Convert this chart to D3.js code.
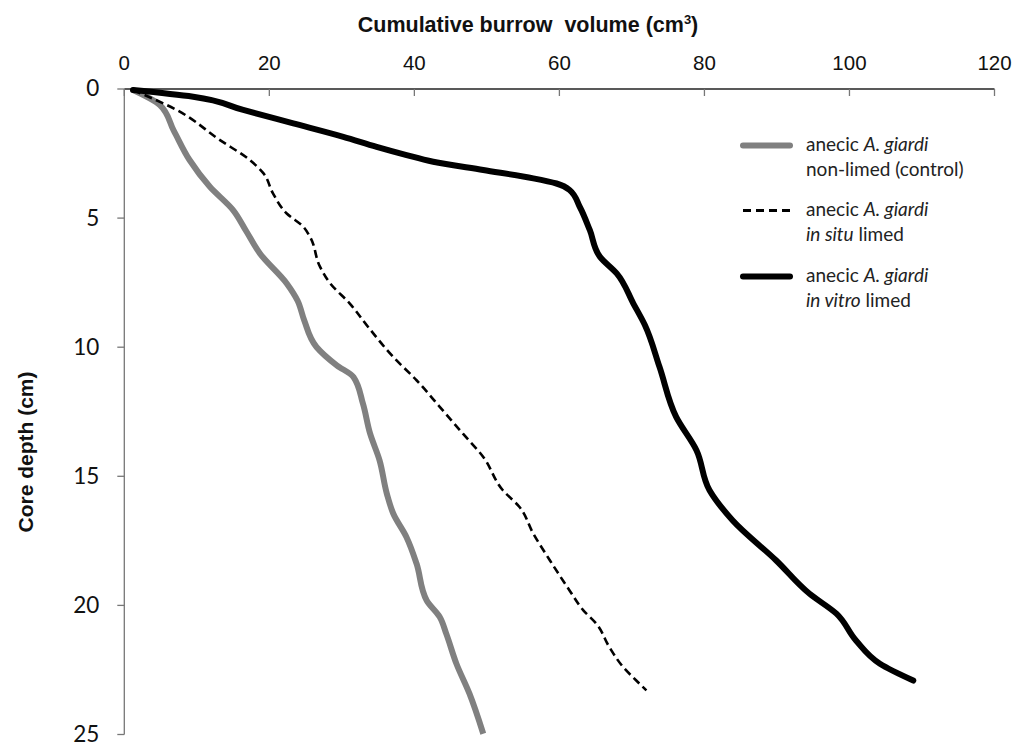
<!DOCTYPE html>
<html>
<head>
<meta charset="utf-8">
<script src="https://cdn.jsdelivr.net/npm/d3@7"></script>
<style>
  html, body { margin: 0; padding: 0; background: #fff; }
  svg { display: block; }
</style>
</head>
<body>
<svg id="chart" width="1018" height="744"></svg>
<script>
// ---- Data ----
const xTicks = [0, 20, 40, 60, 80, 100, 120];
const yTicks = [0, 5, 10, 15, 20, 25];

// non-limed (control)
const controlDepth  = [0.04, 0.62, 1.6, 2.75, 3.79, 4.69, 5.5, 6.37, 7.53, 8.2, 8.95, 9.99, 10.7, 11.15, 12.18, 13.35, 14.38, 15.67, 16.45, 17.35, 18.38, 19.81, 20.45, 21.1, 22.26, 23.42, 24.97];
const controlVolume = [1.2, 4.9, 6.8, 9.0, 11.8, 15.0, 16.8, 18.7, 22.4, 23.9, 24.8, 26.5, 29.3, 31.6, 32.9, 33.9, 35.2, 36.2, 37.1, 38.9, 40.3, 41.7, 43.5, 44.4, 45.8, 47.6, 49.5];

// in situ limed
const insituDepth  = [0.04, 0.81, 1.98, 2.75, 3.27, 4.04, 4.82, 5.34, 5.72, 6.89, 7.53, 8.31, 9.21, 10.38, 11.28, 12.31, 13.35, 14.25, 15.54, 16.19, 17.22, 18.26, 19.42, 20.19, 20.71, 21.62, 22.39, 22.91, 23.29];
const insituVolume = [1.2, 7.2, 13.2, 17.3, 19.2, 20.5, 22.4, 24.7, 25.6, 27.0, 28.4, 31.1, 33.6, 37.1, 40.3, 43.5, 46.7, 49.5, 52.2, 54.5, 56.4, 58.7, 61.4, 63.3, 65.1, 66.9, 68.8, 70.6, 72.0];

// in vitro limed
const invitroDepth  = [0.04, 0.3, 0.81, 1.33, 1.85, 2.24, 2.55, 2.82, 3.14, 3.46, 3.66, 3.91, 4.56, 5.47, 6.5, 7.14, 8.31, 9.15, 10.76, 12.7, 13.99, 15.54, 16.71, 18.26, 19.55, 20.32, 21.36, 22.26, 22.91];
const invitroVolume = [1.2, 9.5, 16.4, 23.3, 30.2, 34.8, 38.8, 42.6, 49.5, 56.4, 59.6, 61.4, 62.8, 64.2, 65.6, 67.9, 70.2, 71.8, 73.8, 76.1, 78.9, 80.7, 83.9, 89.9, 94.5, 98.2, 100.9, 104.2, 108.8];

const seriesNames = ["non-limed (control)", "in situ limed", "in vitro limed"];

// ---- Chart ----
const svg = d3.select("#chart");
const x = d3.scaleLinear().domain([0, 120]).range([124.3, 994.5]);
const y = d3.scaleLinear().domain([0, 25]).range([89, 734.5]);

// X axis (top)
const xAxisG = svg.append("g").attr("transform", `translate(0,${y(0)})`);
xAxisG.append("line").attr("x1", x(0)).attr("x2", x(120)).attr("y1", 0).attr("y2", 0)
  .attr("stroke", "#222").attr("stroke-width", 1.3);
xAxisG.selectAll("line.tick").data(xTicks).enter().append("line")
  .attr("class", "tick")
  .attr("x1", d => x(d)).attr("x2", d => x(d)).attr("y1", 0).attr("y2", 7)
  .attr("stroke", "#777").attr("stroke-width", 1.3);
xAxisG.selectAll("text").data(xTicks).enter().append("text")
  .attr("x", d => x(d)).attr("y", -19)
  .attr("text-anchor", "middle")
  .attr("font-family", "'Liberation Sans', Arial, sans-serif")
  .attr("font-size", 20.5).attr("fill", "#111")
  .text(d => d);

// Y axis (left)
const yAxisG = svg.append("g").attr("transform", `translate(${x(0)},0)`);
yAxisG.append("line").attr("x1", 0).attr("x2", 0).attr("y1", y(0)).attr("y2", y(25))
  .attr("stroke", "#777").attr("stroke-width", 1.3);
yAxisG.selectAll("line.tick").data(yTicks).enter().append("line")
  .attr("class", "tick")
  .attr("x1", -7).attr("x2", 0).attr("y1", d => y(d)).attr("y2", d => y(d))
  .attr("stroke", "#777").attr("stroke-width", 1.3);
yAxisG.selectAll("text").data(yTicks).enter().append("text")
  .attr("x", -25).attr("y", d => y(d)).attr("dy", "0.33em")
  .attr("text-anchor", "end")
  .attr("font-family", "Lato, 'Open Sans', sans-serif")
  .attr("font-size", 22.5).attr("fill", "#111")
  .text(d => d);

// Axis titles
const xt = svg.append("text")
  .attr("x", 528).attr("y", 32)
  .attr("text-anchor", "middle")
  .attr("font-family", "'Liberation Sans', Arial, sans-serif")
  .attr("font-weight", "bold").attr("font-size", 21.5).attr("fill", "#111")
  .style("white-space", "pre");
xt.append("tspan").text("Cumulative burrow  volume (cm");
xt.append("tspan").attr("font-size", 13).attr("dy", -8).text("3");
xt.append("tspan").attr("dy", 8).text(")");

svg.append("text")
  .attr("transform", "translate(33,452) rotate(-90)")
  .attr("text-anchor", "middle")
  .attr("font-family", "'Liberation Sans', Arial, sans-serif")
  .attr("font-weight", "bold").attr("font-size", 21).attr("fill", "#111")
  .text("Core depth (cm)");

// Lines
const line = d3.line()
  .x(d => x(d[0])).y(d => y(d[1]))
  .curve(d3.curveMonotoneY);

const zip = (vol, dep) => vol.map((v, i) => [v, dep[i]]);

svg.append("path").datum(zip(controlVolume, controlDepth))
  .attr("d", line).attr("fill", "none")
  .attr("stroke", "#808080").attr("stroke-width", 6).attr("stroke-linejoin", "round");

svg.append("path").datum(zip(insituVolume, insituDepth))
  .attr("d", line).attr("fill", "none")
  .attr("stroke", "#000").attr("stroke-width", 2.6).attr("stroke-dasharray", "8,4.5");

svg.append("path").datum(zip(invitroVolume, invitroDepth))
  .attr("d", line).attr("fill", "none")
  .attr("stroke", "#000").attr("stroke-width", 6).attr("stroke-linejoin", "round").attr("stroke-linecap", "round");

// Legend
const legendFont = "Lato, 'Open Sans', sans-serif";
const legendItems = [
  { y: 145.5, stroke: "#808080", width: 6, dash: null, second: [["non-limed (control)", false]] },
  { y: 210.5, stroke: "#000", width: 3, dash: "8,5", second: [["in situ", true], [" limed", false]] },
  { y: 276.5, stroke: "#000", width: 6, dash: null, second: [["in vitro", true], [" limed", false]] }
];
legendItems.forEach((it, i) => {
  const g = svg.append("g");
  g.append("line").attr("x1", 743).attr("x2", 790).attr("y1", it.y).attr("y2", it.y)
    .attr("stroke", it.stroke).attr("stroke-width", it.width)
    .attr("stroke-linecap", it.dash ? "butt" : "round")
    .attr("stroke-dasharray", it.dash);
  const t1 = g.append("text").attr("x", 806).attr("y", it.y + 5)
    .attr("font-family", legendFont).attr("font-size", 19).attr("fill", "#222")
    .style("white-space", "pre");
  t1.append("tspan").text("anecic ");
  t1.append("tspan").attr("font-style", "italic").text("A. giardi");
  const t2 = g.append("text").attr("x", 806).attr("y", it.y + 30)
    .attr("font-family", legendFont).attr("font-size", 19).attr("fill", "#222")
    .style("white-space", "pre");
  it.second.forEach(([s, ital]) => {
    t2.append("tspan").attr("font-style", ital ? "italic" : null).text(s);
  });
});
</script>
</body>
</html>
